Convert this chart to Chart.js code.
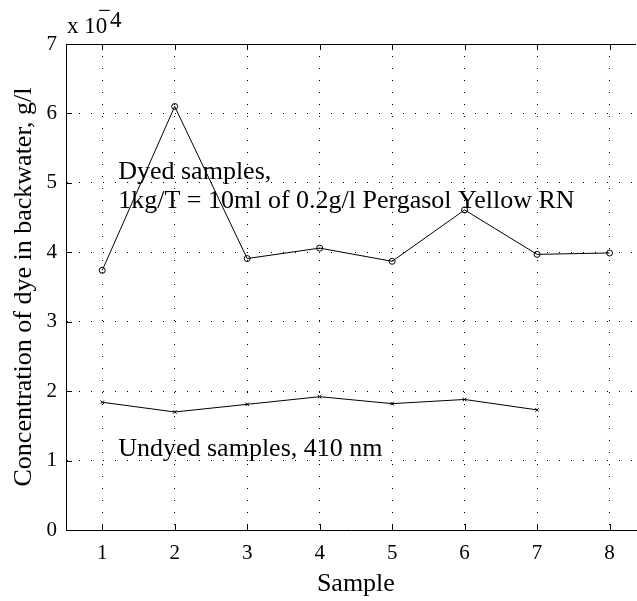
<!DOCTYPE html>
<html>
<head>
<meta charset="utf-8">
<script src="https://cdn.jsdelivr.net/npm/chart.js@4"></script>
<style>
html,body{margin:0;padding:0;background:#fff;overflow:hidden;}
#wrap{width:637px;height:601px;overflow:hidden;}
</style>
</head>
<body>
<div id="wrap"><canvas id="dyeCanvas" width="641" height="601"></canvas></div>
<script>
// concentrations are in units of 1e-4 g/l
var samples=[1,2,3,4,5,6,7,8];
var dyedConc=[3.74,6.10,3.91,4.06,3.87,4.61,3.97,3.99];
var undyedConc=[1.84,1.70,1.81,1.92,1.82,1.88,1.73];
var xTicks=[1,2,3,4,5,6,7,8];
var yTicks=[0,1,2,3,4,5,6,7];

var serif='"Liberation Serif", "Times New Roman", serif';

function toPoints(vals){
	var pts=[];
	for(var i in vals){
		pts.push({x:samples[i],y:vals[i]});
	}
	return pts;
}

// box, inward tick marks and the text labels
var extras={
	id:'extras',
	afterDraw:function(chart){
		var ctx=chart.ctx;
		var a=chart.chartArea;
		var xs=chart.scales.x, ys=chart.scales.y;
		ctx.save();
		ctx.strokeStyle='#000';
		ctx.lineWidth=1;
		ctx.beginPath();
		ctx.moveTo(a.left,a.top+0.5);
		ctx.lineTo(a.right,a.top+0.5);
		for(var i in xTicks){
			var px=Math.round(xs.getPixelForValue(xTicks[i]))+0.5;
			ctx.moveTo(px,a.bottom);ctx.lineTo(px,a.bottom-6);
			ctx.moveTo(px,a.top);ctx.lineTo(px,a.top+6);
		}
		for(var j in yTicks){
			var py=Math.round(ys.getPixelForValue(yTicks[j]))+0.5;
			ctx.moveTo(a.left,py);ctx.lineTo(a.left+6,py);
		}
		ctx.stroke();

		ctx.fillStyle='#000';
		ctx.textBaseline='alphabetic';
		ctx.textAlign='left';
		ctx.font='26px '+serif;
		ctx.fillText('Dyed samples,',xs.getPixelForValue(1.22),ys.getPixelForValue(5.05));
		ctx.fillText('1kg/T = 10ml of 0.2g/l Pergasol Yellow RN',xs.getPixelForValue(1.22),ys.getPixelForValue(4.64));
		ctx.fillText('Undyed samples, 410 nm',xs.getPixelForValue(1.22),ys.getPixelForValue(1.07));

		// x label centred on the full 0.5..8.5 axis
		ctx.textAlign='center';
		ctx.fillText('Sample',xs.getPixelForValue(4.5),a.bottom+61);

		// axis multiplier
		ctx.textAlign='left';
		ctx.font='23px '+serif;
		ctx.fillText('x 10',a.left+1,a.top-11);
		ctx.fillText('\u2212',a.left+32,a.top-26);
		ctx.fillText('4',a.left+44,a.top-17);
		ctx.restore();
	}
};

var chartdata={
	datasets:[
		{
			label:'Dyed samples',
			data:toPoints(dyedConc),
			borderColor:'#000',
			borderWidth:1,
			backgroundColor:'rgba(0,0,0,0)',
			pointStyle:'circle',
			pointRadius:3,
			pointBorderWidth:1,
			tension:0
		},
		{
			label:'Undyed samples, 410 nm',
			data:toPoints(undyedConc),
			borderColor:'#000',
			borderWidth:1,
			backgroundColor:'rgba(0,0,0,0)',
			pointStyle:'crossRot',
			pointRadius:2.5,
			pointBorderWidth:1,
			tension:0
		}
	]
};

var ctx=document.getElementById('dyeCanvas');

var lineGraph=new Chart(ctx,{
	type:'line',
	data:chartdata,
	plugins:[extras],
	options:{
		responsive:false,
		animation:false,
		layout:{padding:{top:44,right:0,left:0,bottom:0}},
		plugins:{legend:{display:false},tooltip:{enabled:false}},
		scales:{
			x:{
				type:'linear',
				min:0.5,
				max:8.365,
				afterBuildTicks:function(scale){
					scale.ticks=xTicks.map(function(v){return {value:v};});
				},
				afterFit:function(scale){
					scale.height=71;
					scale.paddingLeft=0;
					scale.paddingRight=0;
				},
				grid:{color:'#000',lineWidth:1,drawTicks:false},
				border:{display:true,color:'#000',width:1,dash:[1,11]},
				ticks:{color:'#000',font:{family:serif,size:21},padding:11,maxRotation:0}
			},
			y:{
				min:0,
				max:7,
				afterBuildTicks:function(scale){
					scale.ticks=yTicks.map(function(v){return {value:v};});
				},
				afterFit:function(scale){scale.width=66;},
				grid:{color:'#000',lineWidth:1,drawTicks:false},
				border:{display:true,color:'#000',width:1,dash:[1,11]},
				ticks:{color:'#000',font:{family:serif,size:21},padding:9},
				title:{display:true,text:'Concentration of dye in backwater, g/l',color:'#000',font:{family:serif,size:26},padding:{top:9,bottom:0}}
			}
		}
	}
});
</script>
</body>
</html>
